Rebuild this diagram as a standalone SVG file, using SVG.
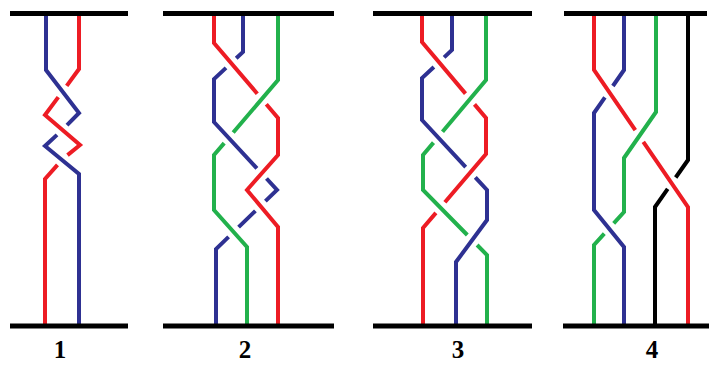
<svg xmlns="http://www.w3.org/2000/svg" width="709" height="365" viewBox="0 0 709 365">
<style>
.s{fill:none;stroke-width:4;stroke-linejoin:miter;stroke-linecap:butt}
.r{stroke:#ed1c24}.b{stroke:#2e3192}.g{stroke:#22b14c}.k{stroke:#000}
.bar{stroke:#000;stroke-width:5;fill:none}
.lbl{font-family:"Liberation Serif","Times New Roman",serif;font-weight:bold;font-size:25px;fill:#000;text-anchor:middle}
</style>
<g id="panel1">
<path class="s r" d="M79,13 V69 L66.7,85.9 M58.3,97.1 L45,115 L80,145 L67.5,155.1 M57.5,164.9 L45,179 V326"/>
<path class="s b" d="M46,13 V70 L79,113 L67,125.1 M57,134.9 L45,146 L79,174 V326"/>
<line class="bar" x1="10" y1="13.5" x2="128" y2="13.5"/>
<line class="bar" x1="10" y1="326" x2="128" y2="326"/>
<text class="lbl" x="60" y="358">1</text>
</g>
<g id="panel2">
<path class="s r" d="M214,13 V43 L257.3,93.7 M266.3,104.3 L278,118 V155 L247,190 L278,227 V326"/>
<path class="s b" d="M243,13 V52 L236.2,58.3 M226,67.9 L214,79 V122 L256.9,168.3 M266.5,178.5 L277,190 L265.4,201.1 M255.4,210.9 L238.6,227.1 M228.6,236.9 L216,249 V326"/>
<path class="s g" d="M278,13 V80 L233.2,132.5 M224.2,143.1 L214,155 V210 L247,247 V326"/>
<line class="bar" x1="163" y1="13.5" x2="334" y2="13.5"/>
<line class="bar" x1="163" y1="326" x2="334" y2="326"/>
<text class="lbl" x="245" y="358">2</text>
</g>
<g id="panel3">
<path class="s r" d="M422,13 V42 L465.5,93.6 M474.5,104.4 L486,118 V154 L444.9,202.3 M435.9,212.9 L423,228 V326"/>
<path class="s b" d="M452,13 V50 L444.1,57.4 M433.9,67 L422,78 V120 L465.7,167.1 M475.3,177.3 L487,190 V220 L456,262 V326"/>
<path class="s g" d="M486,13 V80 L442.5,131.8 M433.5,142.6 L423,155 V190 L467.3,235 M477.1,245 L487,255 V326"/>
<line class="bar" x1="373" y1="13.5" x2="532" y2="13.5"/>
<line class="bar" x1="373" y1="326" x2="532" y2="326"/>
<text class="lbl" x="458" y="358">3</text>
</g>
<g id="panel4">
<path class="s r" d="M594,13 V70 L635.3,130.2 M643.3,141.8 L688,207 V326"/>
<path class="s b" d="M624,13 V70 L612.9,86 M604.9,97.4 L594,113 V210 L624,247 V326"/>
<path class="s g" d="M656,13 V112 L624,158 V212 L613.7,223.3 M604.3,233.7 L594,245 V326"/>
<path class="s k" d="M688,13 V160 L675.7,177.5 M667.7,188.9 L655,207 V326"/>
<line class="bar" x1="564" y1="13.5" x2="707" y2="13.5"/>
<line class="bar" x1="563" y1="326" x2="709" y2="326"/>
<text class="lbl" x="652" y="358">4</text>
</g>
</svg>
